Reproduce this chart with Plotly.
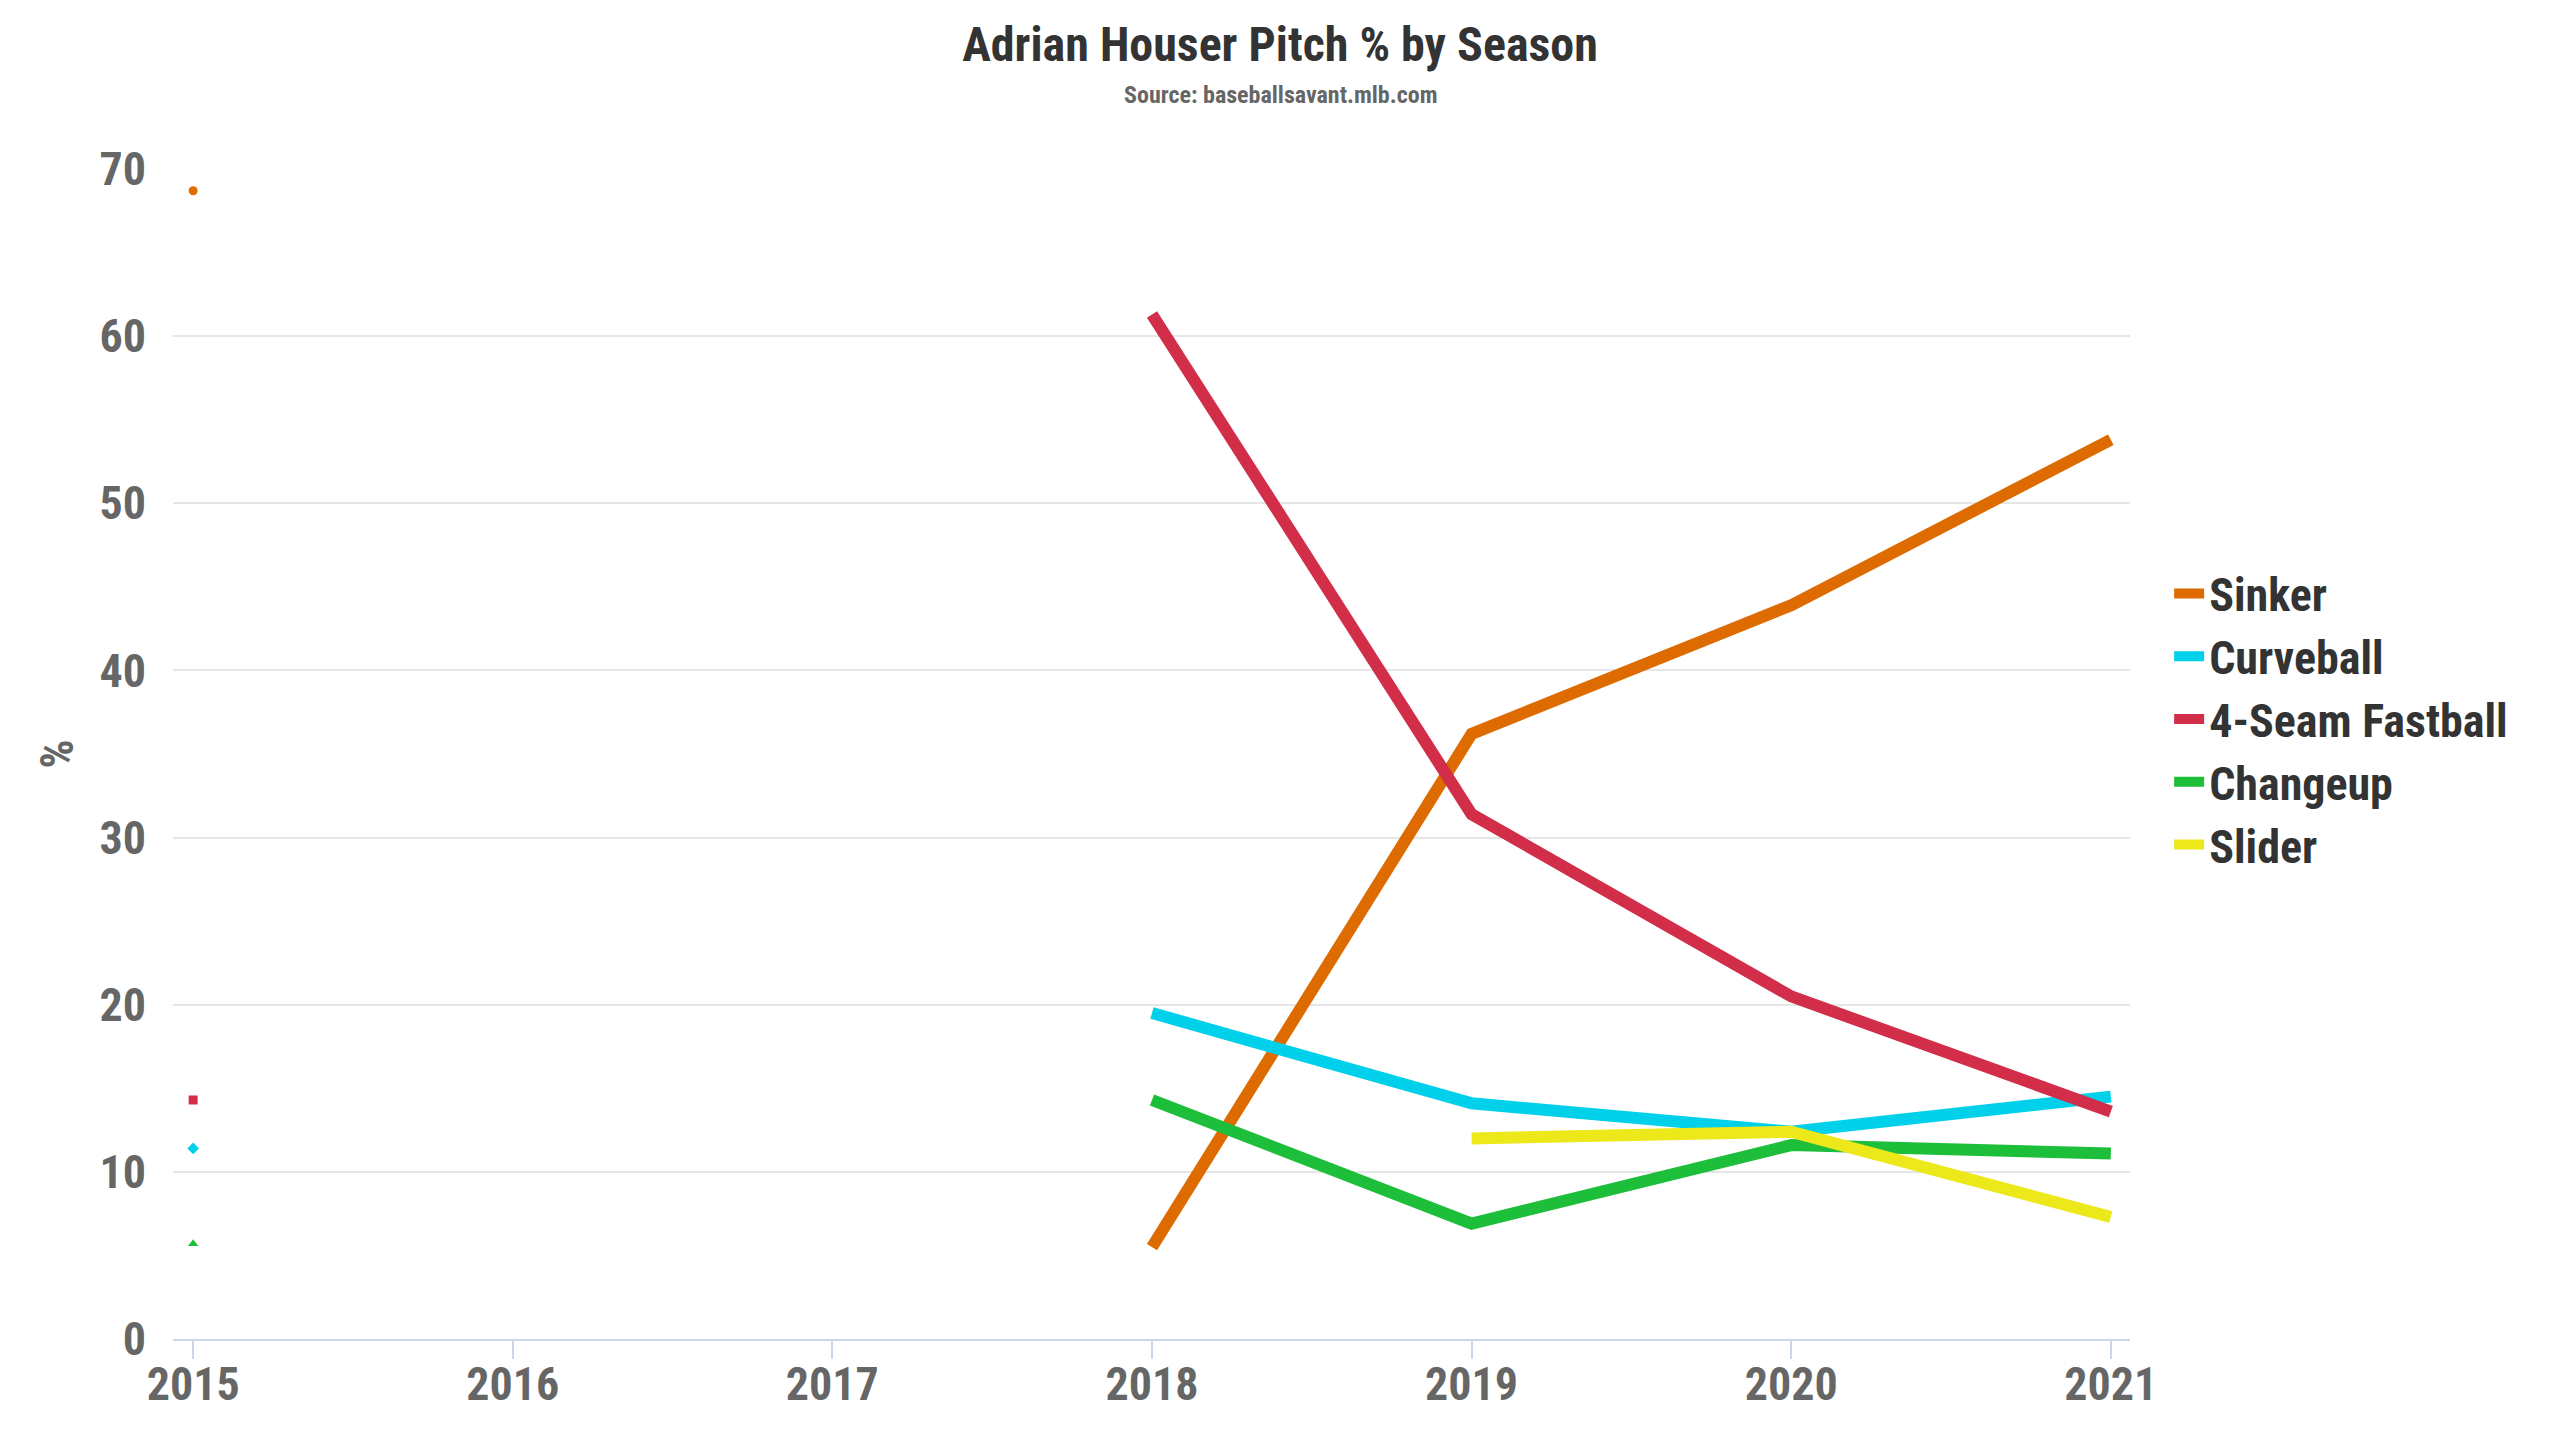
import plotly.graph_objects as go

seasons = [2015, 2016, 2017, 2018, 2019, 2020, 2021]
pitch_names = ["Sinker", "Curveball", "4-Seam Fastball", "Changeup", "Slider"]
sinker = [68.7, None, None, 5.5, 36.2, 43.9, 53.8]
curveball = [11.4, None, None, 19.5, 14.1, 12.4, 14.5]
fastball = [14.3, None, None, 61.3, 31.4, 20.5, 13.6]
changeup = [5.7, None, None, 14.3, 6.9, 11.6, 11.1]
slider = [None, None, None, None, 12.0, 12.4, 7.3]

series = [sinker, curveball, fastball, changeup, slider]
colors = ["#DE6B00", "#00D0EA", "#D22D49", "#1DBE3A", "#ECE81A"]
symbols = ["circle", "diamond", "square", "triangle-up", "triangle-down"]

FONT = "Roboto Condensed, Liberation Sans Narrow, Roboto, sans-serif"

fig = go.Figure()
for name, vals, col, sym in zip(pitch_names, series, colors, symbols):
    fig.add_trace(go.Scatter(
        x=seasons, y=vals, name=name, mode="lines",
        line=dict(color=col, width=12), connectgaps=False,
        legendgroup=name, showlegend=True,
    ))
    # isolated points (no neighbours) are shown as markers
    ix, iy = [], []
    for i, v in enumerate(vals):
        if v is None:
            continue
        prev_none = i == 0 or vals[i - 1] is None
        next_none = i == len(vals) - 1 or vals[i + 1] is None
        if prev_none and next_none:
            ix.append(seasons[i]); iy.append(v)
    if ix:
        fig.add_trace(go.Scatter(
            x=ix, y=iy, mode="markers", name=name, legendgroup=name,
            showlegend=False,
            marker=dict(color=col, symbol=sym, size=9, line=dict(width=0)),
        ))

fig.update_layout(
    width=2560, height=1440,
    paper_bgcolor="white", plot_bgcolor="white",
    margin=dict(l=173, r=430, t=169, b=101),
    font=dict(family=FONT, color="#666666", weight="bold"),
    title=dict(
        text="Adrian Houser Pitch % by Season",
        x=0.5, xanchor="center", xref="container",
        y=1 - 44 / 1440, yanchor="middle", yref="container",
        font=dict(family=FONT, size=48, color="#333333", weight="bold"),
    ),
    showlegend=True,
    legend=dict(
        x=1.02, xanchor="left", y=(1339 - 719) / 1170, yanchor="middle",
        font=dict(family=FONT, size=46, color="#333333", weight="bold"),
        bgcolor="rgba(0,0,0,0)", itemwidth=30, tracegroupgap=0,
    ),
    annotations=[dict(
        text="Source: baseballsavant.mlb.com",
        xref="paper", yref="paper", x=(1280 - 173) / 1957, y=(1339 - 95) / 1170,
        xanchor="center", yanchor="middle", showarrow=False,
        font=dict(family=FONT, size=24, color="#666666", weight="bold"),
    )],
)

fig.update_xaxes(
    range=[2014.937, 2021.06], tickmode="array", tickvals=seasons,
    ticktext=[str(s) for s in seasons],
    showgrid=False, showline=True, linecolor="#ccd6eb", linewidth=2,
    ticks="outside", ticklen=18, tickwidth=2, tickcolor="#ccd6eb",
    ticklabelstandoff=-14,
    tickfont=dict(family=FONT, size=46, color="#666666", weight="bold"),
    zeroline=False,
)
fig.update_yaxes(
    range=[0, 70], dtick=10, tick0=0,
    showgrid=True, gridcolor="#e6e6e6", gridwidth=2,
    zeroline=False, showline=False, ticks="",
    ticklabelstandoff=26,
    tickfont=dict(family=FONT, size=46, color="#666666", weight="bold"),
    title=dict(text="%", standoff=11,
               font=dict(family=FONT, size=46, color="#666666", weight="bold")),
)

fig.write_html("out.html")
